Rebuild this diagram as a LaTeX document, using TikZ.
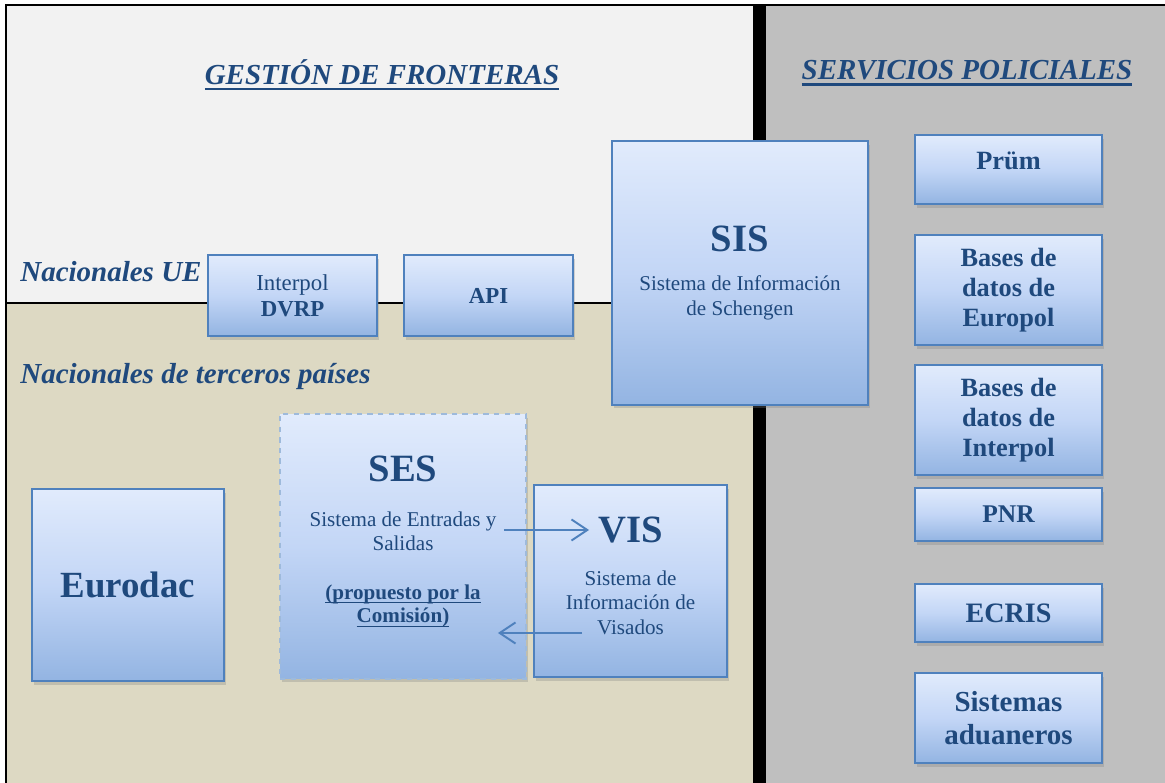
\documentclass[tikz,border=0pt]{standalone}
\usepackage{fontspec}
\setmainfont{Liberation Serif}
\usetikzlibrary{shadows,arrows.meta}
\definecolor{txtblue}{HTML}{1F497D}
\definecolor{boxline}{HTML}{4F81BD}
\definecolor{boxtop}{HTML}{E1EBFC}
\definecolor{boxmid}{HTML}{C3D6F6}
\definecolor{boxbot}{HTML}{93B4E2}
\definecolor{regtop}{HTML}{F2F2F2}
\definecolor{regbot}{HTML}{DDD9C3}
\definecolor{regright}{HTML}{BFBFBF}
\newsavebox{\ulsave}
\newcommand{\ulline}[3]{\sbox{\ulsave}{#3}\makebox[0pt][l]{\rule[-#2]{\wd\ulsave}{#1}}\usebox{\ulsave}}
\newcommand{\thickul}[1]{\ulline{1.6pt}{3.4pt}{#1}}
\newcommand{\thinul}[1]{\ulline{0.9pt}{2.4pt}{#1}}

\begin{document}
\begin{tikzpicture}[
  x=0.02cm, y=-0.02cm,
  sysbox/.style={draw=boxline, line width=1.1pt, top color=boxtop, bottom color=boxbot,
    middle color=boxmid, text=txtblue, align=center, inner sep=2pt,
    drop shadow={shadow xshift=1pt, shadow yshift=-2pt, opacity=0.3}},
  sidebox/.style={sysbox, minimum width=3.74cm, font=\bfseries\fontsize{15}{17}\selectfont},
  title/.style={text=txtblue, font=\bfseries\itshape\fontsize{16.5}{19}\selectfont},
  rowlabel/.style={text=txtblue, anchor=west, inner sep=0pt, font=\bfseries\itshape\fontsize{16.5}{19}\selectfont},
  flow/.style={draw=boxline, line width=1.1pt, -{Straight Barb[length=9pt,width=12pt]}}
]

\useasboundingbox (0,0) rectangle (1165,783);
\fill[regtop] (6,5) rectangle (753,303);
\fill[regbot] (6,303) rectangle (753,783);
\fill[regright] (766,5) rectangle (1165,783);
\fill[black] (753,4) rectangle (766,783);
\draw[line width=1.5pt] (6,783) -- (6,5) -- (1165,5);

\node[title] (gestion) at (382,75) {\thickul{GESTIÓN DE FRONTERAS}};
\node[title] (policia) at (967,73) {\thickul{SERVICIOS POLICIALES}};
\node[rowlabel] (ue) at (20,272) {Nacionales UE};
\node[rowlabel] (terceros) at (20,377) {Nacionales de terceros países};

\coordinate (sepleft) at (6,303);
\node[sysbox, minimum width=5.12cm, minimum height=5.28cm, font=\fontsize{12}{14}\selectfont] (sis) at (740,273)
  {{\bfseries\fontsize{22}{26}\selectfont SIS}\\[8pt]Sistema de Información\\de Schengen};
\draw[line width=1.1pt] (sepleft) -- (sepleft -| sis.west);

\node[sysbox, minimum width=3.38cm, minimum height=1.62cm, font=\fontsize{13}{15}\selectfont] (dvrp) at (292.5,295.5)
  {Interpol\\\textbf{DVRP}};
\node[sysbox, minimum width=3.38cm, minimum height=1.62cm, font=\bfseries\fontsize{13}{15}\selectfont] (api) at (488.5,295.5) {API};

\node[sysbox, draw=boxline!55, dashed, minimum width=4.92cm, minimum height=5.30cm, font=\fontsize{12}{13.6}\selectfont] (ses) at (403,546.5)
  {{\bfseries\fontsize{22}{26}\selectfont SES}\\[12pt]Sistema de Entradas y\\Salidas\\[14pt]
   \textbf{\thinul{(propuesto por la}}\\\textbf{\thinul{Comisión)}}\\[-5.6pt]\mbox{}};
\node[sysbox, minimum width=3.86cm, minimum height=3.84cm, font=\fontsize{12}{14}\selectfont] (vis) at (630.5,581)
  {{\bfseries\fontsize{22}{26}\selectfont VIS}\\[10pt]Sistema de\\Información de\\Visados\\[-8pt]\mbox{}};
\node[sysbox, minimum width=3.84cm, minimum height=3.84cm, font=\bfseries\fontsize{21}{25}\selectfont] (eurodac) at (128,585) {Eurodac};

\coordinate (sesout) at ([xshift=-0.46cm,yshift=0.33cm]ses.east);
\coordinate (visin) at ([xshift=1.12cm]vis.west |- sesout);
\coordinate (visout) at ([xshift=0.98cm,yshift=-1.73cm]vis.west |- ses.east);
\coordinate (sesin) at ([xshift=-0.58cm]ses.east |- visout);
\draw[flow] (sesout) -- (visin);
\draw[flow] (visout) -- (sesin);

\node[sidebox, minimum height=1.38cm] (prum) at (1008.5,169.5) {Prüm\\[-7pt]\mbox{}};
\node[sidebox, minimum height=2.20cm] (europol) at (1008.5,290) {Bases de\\datos de\\Europol};
\node[sidebox, minimum height=2.20cm] (interpoldb) at (1008.5,420) {Bases de\\datos de\\Interpol};
\node[sidebox, minimum height=1.06cm, font=\bfseries\fontsize{14.5}{17}\selectfont] (pnr) at (1008.5,514.5) {PNR};
\node[sidebox, minimum height=1.16cm, font=\bfseries\fontsize{16}{18}\selectfont] (ecris) at (1008.5,613) {ECRIS};
\node[sidebox, minimum height=1.80cm, font=\bfseries\fontsize{16.5}{18.5}\selectfont] (aduanas) at (1008.5,718) {Sistemas\\aduaneros};

\end{tikzpicture}
\end{document}
